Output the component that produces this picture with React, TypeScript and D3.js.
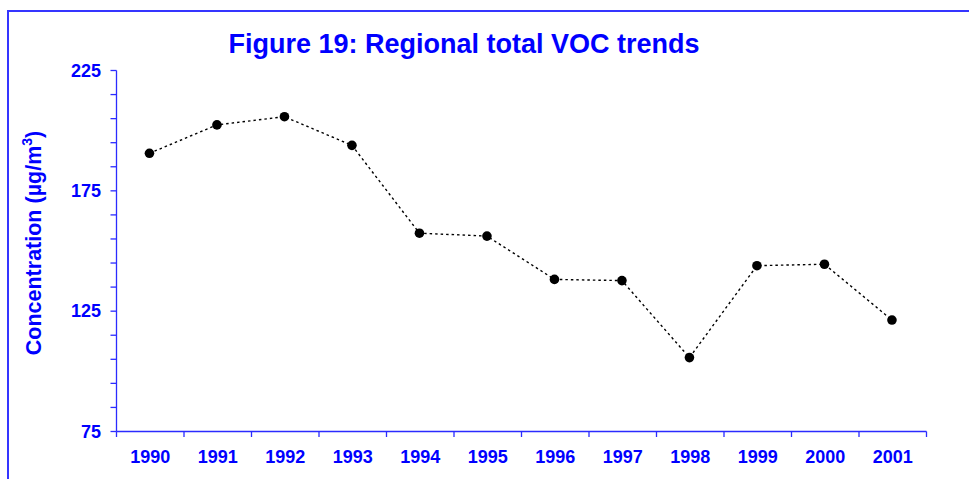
import React from "react";
import * as d3 from "d3";

const years: string[] = ["1990","1991","1992","1993","1994","1995","1996","1997","1998","1999","2000","2001"];
const vocValues: number[] = [190.6, 202.4, 205.8, 193.9, 157.4, 156.2, 138.2, 137.7, 105.7, 143.9, 144.5, 121.3];
const yMajorTicks: number[] = [75, 125, 175, 225];
const yMinorTicks: number[] = d3.range(75, 226, 10);

const W = 969;
const H = 479;
const left = 116.5;
const right = 926.5;
const top = 70.5;
const bottom = 431.5;
const axisColor = "#2b2bff";
const textColor = "#0000ff";
const font = "'Liberation Sans', Arial, sans-serif";

export default function App() {
  const x = d3.scaleBand<string>().domain(years).range([left, right]).padding(0);
  const y = d3.scaleLinear().domain([75, 225]).range([bottom, top]);
  const pts = years.map((yr, i) => [x(yr)! + x.bandwidth() / 2 - 0.8, y(vocValues[i])] as [number, number]);
  const line = d3.line<[number, number]>()(pts) || "";
  const xTicks = years.map((yr) => x(yr)!).concat([right]);

  return (
    <svg width={W} height={H} style={{ position: "absolute", left: 0, top: 0, display: "block", background: "#fff" }}>
      <rect x={8} y={11} width={990} height={500} fill="none" stroke="#3535ff" strokeWidth={2} />
      <text x={464} y={53} textAnchor="middle" fill={textColor} fontFamily={font} fontWeight="bold" fontSize={27}>
        Figure 19: Regional total VOC trends
      </text>
      {/* y axis */}
      <line x1={left} x2={left} y1={top} y2={bottom} stroke={axisColor} strokeWidth={1.3} />
      {yMinorTicks.map((t) => (
        <line key={"yt" + t} x1={left - 6} x2={left} y1={y(t)} y2={y(t)} stroke={axisColor} strokeWidth={1.3} />
      ))}
      {yMajorTicks.map((t) => (
        <text key={"yl" + t} x={101} y={y(t) + 6} textAnchor="end" fill={textColor} fontFamily={font} fontWeight="bold" fontSize={18}>
          {t}
        </text>
      ))}
      {/* x axis */}
      <line x1={left} x2={right} y1={bottom} y2={bottom} stroke={axisColor} strokeWidth={1.3} />
      {xTicks.map((t, i) => (
        <line key={"xt" + i} x1={t} x2={t} y1={bottom} y2={bottom + 5.5} stroke={axisColor} strokeWidth={1.3} />
      ))}
      {years.map((yr) => (
        <text key={"xl" + yr} x={x(yr)! + x.bandwidth() / 2} y={463} textAnchor="middle" fill={textColor} fontFamily={font} fontWeight="bold" fontSize={18}>
          {yr}
        </text>
      ))}
      {/* y axis title */}
      <text transform="translate(41,243) rotate(-90)" textAnchor="middle" fill={textColor} fontFamily={font} fontWeight="bold" fontSize={21.5}>
        Concentration (µg/m<tspan fontSize={14} dy={-9}>3</tspan><tspan dy={9}>)</tspan>
      </text>
      {/* series */}
      <path d={line} fill="none" stroke="#000" strokeWidth={1.4} strokeDasharray="2.5,3" />
      {pts.map((p, i) => (
        <circle key={"pt" + i} cx={p[0]} cy={p[1]} r={4.8} fill="#000" />
      ))}
    </svg>
  );
}
